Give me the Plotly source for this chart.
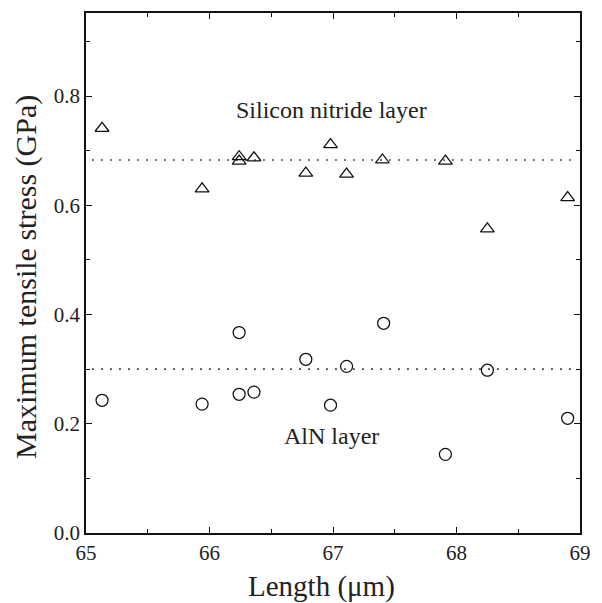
import plotly.graph_objects as go

# Data
sin_x = [65.13, 65.94, 66.24, 66.24, 66.36, 66.78, 66.98, 67.11, 67.40, 67.91, 68.25, 68.90]
sin_y = [0.741, 0.630, 0.689, 0.681, 0.687, 0.659, 0.711, 0.657, 0.683, 0.681, 0.557, 0.614]

aln_x = [65.13, 65.94, 66.24, 66.24, 66.36, 66.78, 66.98, 67.11, 67.41, 67.91, 68.25, 68.90]
aln_y = [0.243, 0.236, 0.367, 0.254, 0.258, 0.318, 0.234, 0.305, 0.384, 0.144, 0.298, 0.210]

sin_mean = 0.683
aln_mean = 0.300
line_x = [65.05, 68.97]

x_ticks = [65, 66, 67, 68, 69]
y_ticks = [0.0, 0.2, 0.4, 0.6, 0.8]
y_ticklabels = ["0.0", "0.2", "0.4", "0.6", "0.8"]

FONT = "Times New Roman, Liberation Serif, serif"

fig = go.Figure()

fig.add_trace(go.Scatter(
    x=line_x, y=[sin_mean, sin_mean], mode="lines",
    line=dict(color="#222", width=1.6, dash="1.6px,7.4px"),
    showlegend=False, hoverinfo="skip"))
fig.add_trace(go.Scatter(
    x=line_x, y=[aln_mean, aln_mean], mode="lines",
    line=dict(color="#222", width=1.6, dash="1.6px,7.4px"),
    showlegend=False, hoverinfo="skip"))

fig.add_trace(go.Scatter(
    x=sin_x, y=sin_y, mode="markers",
    marker=dict(symbol="triangle-up-open", size=12, color="#111", line=dict(width=1.25)),
    showlegend=False))
fig.add_trace(go.Scatter(
    x=aln_x, y=aln_y, mode="markers",
    marker=dict(symbol="circle-open", size=12, color="#111", line=dict(width=1.25)),
    showlegend=False))

axis_common = dict(
    showline=True, linecolor="#111", linewidth=1.5, mirror="allticks",
    ticks="inside", ticklen=6, tickwidth=1.2, tickcolor="#111",
    showgrid=False, zeroline=False,
    tickfont=dict(family=FONT, size=21, color="#222"),
)

fig.update_xaxes(range=[65, 69], tickvals=x_ticks, ticktext=[str(v) for v in x_ticks],
                 minor=dict(dtick=0.5, tick0=65, ticks="inside", ticklen=4, tickcolor="#111"),
                 **axis_common)
fig.update_yaxes(range=[0, 0.952], tickvals=y_ticks, ticktext=y_ticklabels,
                 minor=dict(dtick=0.1, tick0=0, ticks="inside", ticklen=4, tickcolor="#111"),
                 **axis_common)

fig.add_annotation(x=66.99, y=0.775, xref="x", yref="y", text="Silicon nitride layer",
                   showarrow=False, font=dict(family=FONT, size=24, color="#222"),
                   xanchor="center", yanchor="middle")
fig.add_annotation(x=66.99, y=0.177, xref="x", yref="y", text="AlN layer",
                   showarrow=False, font=dict(family=FONT, size=24, color="#222"),
                   xanchor="center", yanchor="middle")

fig.add_annotation(x=0.477, y=-0.102, xref="paper", yref="paper", text="Length (μm)",
                   showarrow=False, font=dict(family=FONT, size=29, color="#222"),
                   xanchor="center", yanchor="middle")
fig.add_annotation(x=-0.123, y=0.493, xref="paper", yref="paper",
                   text="Maximum tensile stress (GPa)", textangle=-90,
                   showarrow=False, font=dict(family=FONT, size=30, color="#222"),
                   xanchor="center", yanchor="middle")

fig.update_layout(
    width=602, height=603,
    margin=dict(l=86, r=11, t=12, b=70),
    plot_bgcolor="white", paper_bgcolor="white",
)

fig.write_html("out.html")
